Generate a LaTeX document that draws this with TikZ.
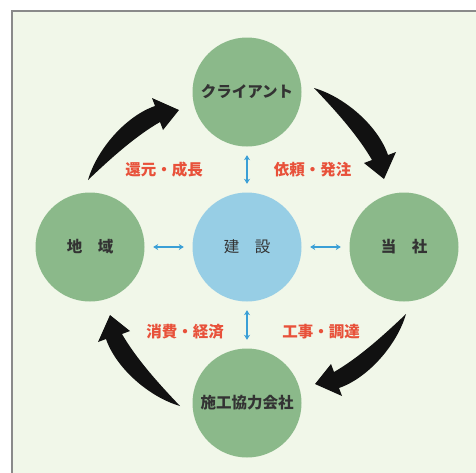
\documentclass[tikz,border=0pt]{standalone}
\usepackage{fontspec}
\newfontfamily\jp{Noto Sans CJK JP}
\usetikzlibrary{arrows.meta}
\definecolor{bg}{HTML}{F1F7E9}
\definecolor{framegray}{HTML}{8A8A8A}
\definecolor{cgreen}{HTML}{8BB98A}
\definecolor{cblue}{HTML}{97CEE5}
\definecolor{tdark}{HTML}{333333}
\definecolor{tred}{HTML}{E8513A}
\definecolor{ablue}{HTML}{3A9FD6}
\definecolor{ablack}{HTML}{111111}
\tikzset{
  gcirc/.style={circle, fill=cgreen, minimum size=109pt, inner sep=0pt,
    font=\jp\bfseries\fontsize{15.5}{18}\selectfont, text=tdark},
  bcirc/.style={circle, fill=cblue, minimum size=109pt, inner sep=0pt,
    font=\jp\fontsize{15.5}{18}\selectfont, text=tdark},
  rlabel/.style={font=\jp\bfseries\fontsize{15.5}{18}\selectfont, text=tred, inner sep=0pt},
  barrow/.style={draw=ablue, line width=1.4pt, {Stealth[length=5pt,width=6pt]}-{Stealth[length=5pt,width=6pt]}, shorten <=8.5pt, shorten >=8.5pt},
  bigarrow/.style={fill=ablack}
}
\begin{document}
\begin{tikzpicture}[x=1pt,y=-1pt]
\useasboundingbox (0,0) rectangle (476,472);
\clip (0,0) rectangle (476,472);
\fill[white] (0,0) rectangle (476,472);
\draw[framegray, line width=2pt, fill=bg] (12,11) rectangle (495,495);

\node[gcirc] (cl) at (247,92) {クライアント};
\node[bcirc] (ken) at (247,247) {建　設};
\node[gcirc] (chi) at (90,247) {地　域};
\node[gcirc] (tou) at (404,247) {当　社};
\node[gcirc] (se) at (247,403) {施工協力会社};

\draw[barrow] (cl) -- (ken);
\draw[barrow] (se) -- (ken);
\draw[barrow] (chi) -- (ken);
\draw[barrow] (tou) -- (ken);

\node[rlabel] (l1) at (164,170) {還元・成長};
\node[rlabel] (l2) at (312.5,170) {依頼・発注};
\node[rlabel] (l3) at (185,332) {消費・経済};
\node[rlabel] (l4) at (321,332) {工事・調達};

\foreach \k in {0,1,2,3}{
  \begin{scope}[shift={(247,247)}, rotate=-90*\k]
    \fill[bigarrow] (-159,-67) .. controls (-150,-98) and (-121,-131) .. (-92,-141)
      -- (-95,-149) -- (-68,-137) -- (-84,-117) -- (-87,-125)
      .. controls (-113,-110) and (-139,-86) .. (-159,-67) -- cycle;
  \end{scope}
}
\end{tikzpicture}
\end{document}
